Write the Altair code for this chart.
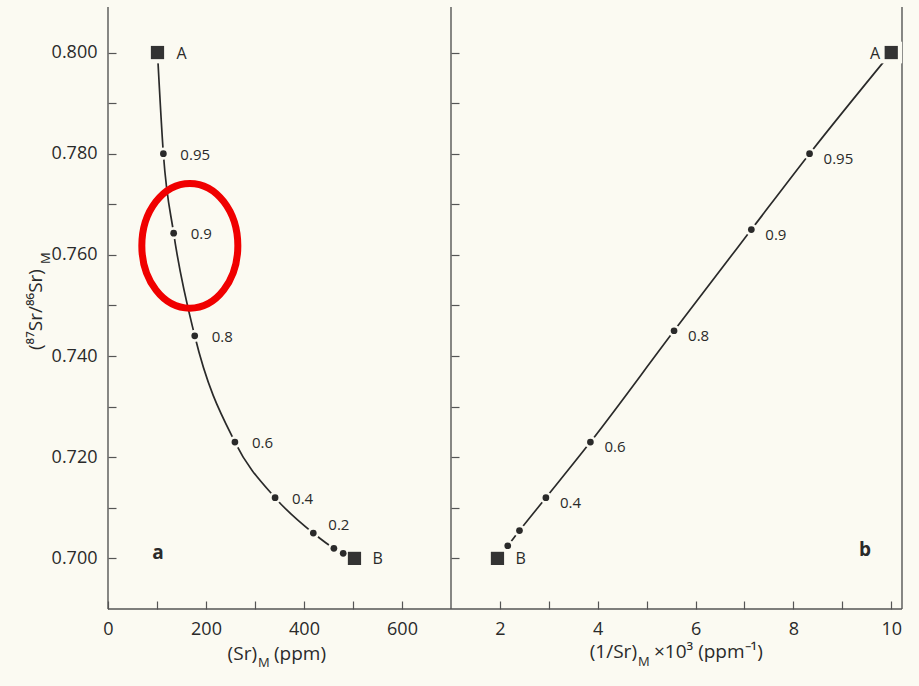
import altair as alt
import pandas as pd

# ---------------------------------------------------------------------------
# Two-component mixing of Sr: end-members A and B, mixtures labelled with the
# mass fraction of A.
# ---------------------------------------------------------------------------

# panel a: (Sr)_M in ppm against (87Sr/86Sr)_M
a_labels = ["A", "0.95", "0.9", "0.8", "0.6", "0.4", "0.2", "", "", "B"]
a_sr_ppm = [101, 113, 134, 177, 259, 341, 419, 461, 480, 503]
a_ratio = [0.800, 0.780, 0.7643, 0.744, 0.723, 0.712, 0.705, 0.702, 0.701, 0.700]

# panel b: (1/Sr)_M x 10^3 against (87Sr/86Sr)_M
b_labels = ["A", "0.95", "0.9", "0.8", "0.6", "0.4", "", "", "B"]
b_inv_sr = [10.0, 8.33, 7.14, 5.56, 3.85, 2.94, 2.40, 2.16, 1.95]
b_ratio = [0.800, 0.780, 0.765, 0.745, 0.723, 0.712, 0.7055, 0.7025, 0.700]

# ring drawn around the 0.9 mixture of panel a
ring_sr = [167]
ring_ratio = [0.7618]

# axis ticks
a_x_ticks = [0, 100, 200, 300, 400, 500, 600]
b_x_ticks = [2, 3, 4, 5, 6, 7, 8, 9, 10]
y_ticks = [0.70, 0.71, 0.72, 0.73, 0.74, 0.75, 0.76, 0.77, 0.78, 0.79, 0.80]

# axis titles (pieces, so the subscripts can be set smaller and lower)
y_title_main = "(⁸⁷Sr/⁸⁶Sr)"
a_x_title = ["(Sr)", "M", "(ppm)"]
b_x_title = ["(1/Sr)", "M", "×10³ (ppm⁻¹)"]
panel_names = ["a", "b"]

# ---------------------------------------------------------------------------
BG = "#fbfaf2"
INK = "#2a2a2a"
FRAME = "#555555"
FONT = "Open Sans"
H = 602
WA = 343
WB = 451

ELLIPSE = ("M 1 0 C 1 0.718 0.552 1.3 0 1.3 C -0.552 1.3 -1 0.718 -1 0 "
           "C -1 -0.718 -0.552 -1.3 0 -1.3 C 0.552 -1.3 1 -0.718 1 0 Z")


def one(text):
    return alt.Chart(pd.DataFrame({"t": [text]}))


def rule(x, x2, y, y2):
    return one("").mark_rule(color=FRAME, strokeWidth=1.4).encode(
        x=alt.value(x), x2=alt.value(x2), y=alt.value(y), y2=alt.value(y2))


def spacer(x, x2):
    # invisible box that fixes the outer margins of the figure
    return one("").mark_rect(opacity=0).encode(
        x=alt.value(x), x2=alt.value(x2), y=alt.value(-7), y2=alt.value(H + 77))


def title_piece(text, x, y, align="left", size=19, angle=0):
    m = one(text).mark_text(align=align, baseline="alphabetic", fontSize=size,
                            color=INK, angle=angle)
    return m.encode(text="t:N", x=alt.value(x), y=alt.value(y))


y_scale = alt.Scale(domain=[0.69, 0.809], nice=False, zero=False)


def y_enc(show_labels):
    axis = alt.Axis(values=y_ticks, offset=-8, tickSize=8, tickColor=FRAME,
                    tickWidth=1.2, domain=False, grid=False, title=None,
                    labels=show_labels, labelPadding=11, labelFontSize=18,
                    labelColor=INK, labelFlush=False, labelOverlap=False,
                    labelExpr="round(datum.value * 100) % 2 == 0 ? format(datum.value, '.3f') : ''")
    return alt.Y("y:Q", scale=y_scale, axis=axis)


def x_enc(domain, ticks, step):
    axis = alt.Axis(values=ticks, offset=-8, tickSize=8, tickColor=FRAME,
                    tickWidth=1.2, domain=False, grid=False, title=None,
                    labelPadding=11, labelFontSize=18, labelColor=INK,
                    labelFlush=False, labelOverlap=False,
                    labelExpr=f"datum.value % {step} == 0 ? datum.label : ''")
    return alt.X("x:Q", scale=alt.Scale(domain=domain, nice=False, zero=False), axis=axis)


def mixing_layers(df, xe, ye, mix_dx, mix_dy, skip_label, a_align, a_dx):
    base = alt.Chart(df).encode(x=xe, y=ye)
    mix = base.transform_filter("datum.kind == 'mix'")
    ends = base.transform_filter("datum.kind == 'end'")
    layers = [
        base.mark_line(interpolate="monotone", color=INK, strokeWidth=1.7),
        mix.mark_circle(size=150, color=BG, opacity=1),
        ends.mark_square(size=470, color=BG, opacity=1),
        mix.mark_circle(size=45, color=INK, opacity=1),
        ends.mark_square(size=175, color="#333333", opacity=1),
        mix.transform_filter(f"datum.label != '{skip_label}'").mark_text(
            align="left", baseline="middle", dx=mix_dx, dy=mix_dy,
            fontSize=15, color=INK).encode(text="label:N"),
        ends.transform_filter("datum.label == 'A'").mark_text(
            align=a_align, baseline="middle", dx=a_dx, dy=1,
            fontSize=16, color=INK).encode(text="label:N"),
        ends.transform_filter("datum.label == 'B'").mark_text(
            align="left", baseline="middle", dx=18, dy=1,
            fontSize=16, color=INK).encode(text="label:N"),
    ]
    return base, layers


def kinds(labels):
    return ["end" if s in ("A", "B") else "mix" for s in labels]


# ---------------------------- panel a -------------------------------------
df_a = pd.DataFrame({"x": a_sr_ppm, "y": a_ratio, "label": a_labels,
                     "kind": kinds(a_labels)})
xa = x_enc([0, 700], a_x_ticks, 200)
ya = y_enc(True)
base_a, layers_a = mixing_layers(df_a, xa, ya, 17, 1, "0.2", "left", 19)

label_02 = base_a.transform_filter("datum.label == '0.2'").mark_text(
    align="left", baseline="middle", dx=15, dy=-8, fontSize=15, color=INK
).encode(text="label:N")

ring = alt.Chart(pd.DataFrame({"x": ring_sr, "y": ring_ratio})).mark_point(
    shape=ELLIPSE, size=9216, filled=False, color="#f00000", strokeWidth=7,
    opacity=1).encode(x=xa, y=ya)

panel_a = alt.layer(
    spacer(-108, 0),
    rule(0, 0, 0, H), rule(0, WA, H, H), rule(WA, WA, 0, H),
    *layers_a, label_02, ring,
    one(panel_names[0]).mark_text(fontSize=19, fontWeight="bold", color=INK,
                                  baseline="middle").encode(
        text="t:N", x=alt.value(50), y=alt.value(546)),
    title_piece(a_x_title[0], 149, 653, align="right"),
    title_piece(a_x_title[1], 150, 660, size=13),
    title_piece(a_x_title[2], 166, 653),
    title_piece(y_title_main, -66, 343, angle=270),
    title_piece("M", -58, 257, size=13, angle=270),
).properties(width=WA, height=H)

# ---------------------------- panel b -------------------------------------
df_b = pd.DataFrame({"x": b_inv_sr, "y": b_ratio, "label": b_labels,
                     "kind": kinds(b_labels)})
xb = x_enc([1, 10.22], b_x_ticks, 2)
yb = y_enc(False)
base_b, layers_b = mixing_layers(df_b, xb, yb, 14, 5, "", "right", -11)

panel_b = alt.layer(
    spacer(WB, WB + 17),
    rule(0, WB, H, H), rule(WB, WB, 0, H),
    *layers_b,
    one(panel_names[1]).mark_text(fontSize=19, fontWeight="bold", color=INK,
                                  baseline="middle").encode(
        text="t:N", x=alt.value(414), y=alt.value(543)),
    title_piece(b_x_title[0], 186, 651, align="right"),
    title_piece(b_x_title[1], 187, 659, size=13),
    title_piece(b_x_title[2], 203, 651),
).properties(width=WB, height=H)

chart = alt.hconcat(panel_a, panel_b, spacing=0, bounds="flush").properties(
    padding=0, background=BG
).configure(font=FONT).configure_view(stroke=None)

chart.save("out.html", embed_options={"renderer": "svg", "actions": False})
